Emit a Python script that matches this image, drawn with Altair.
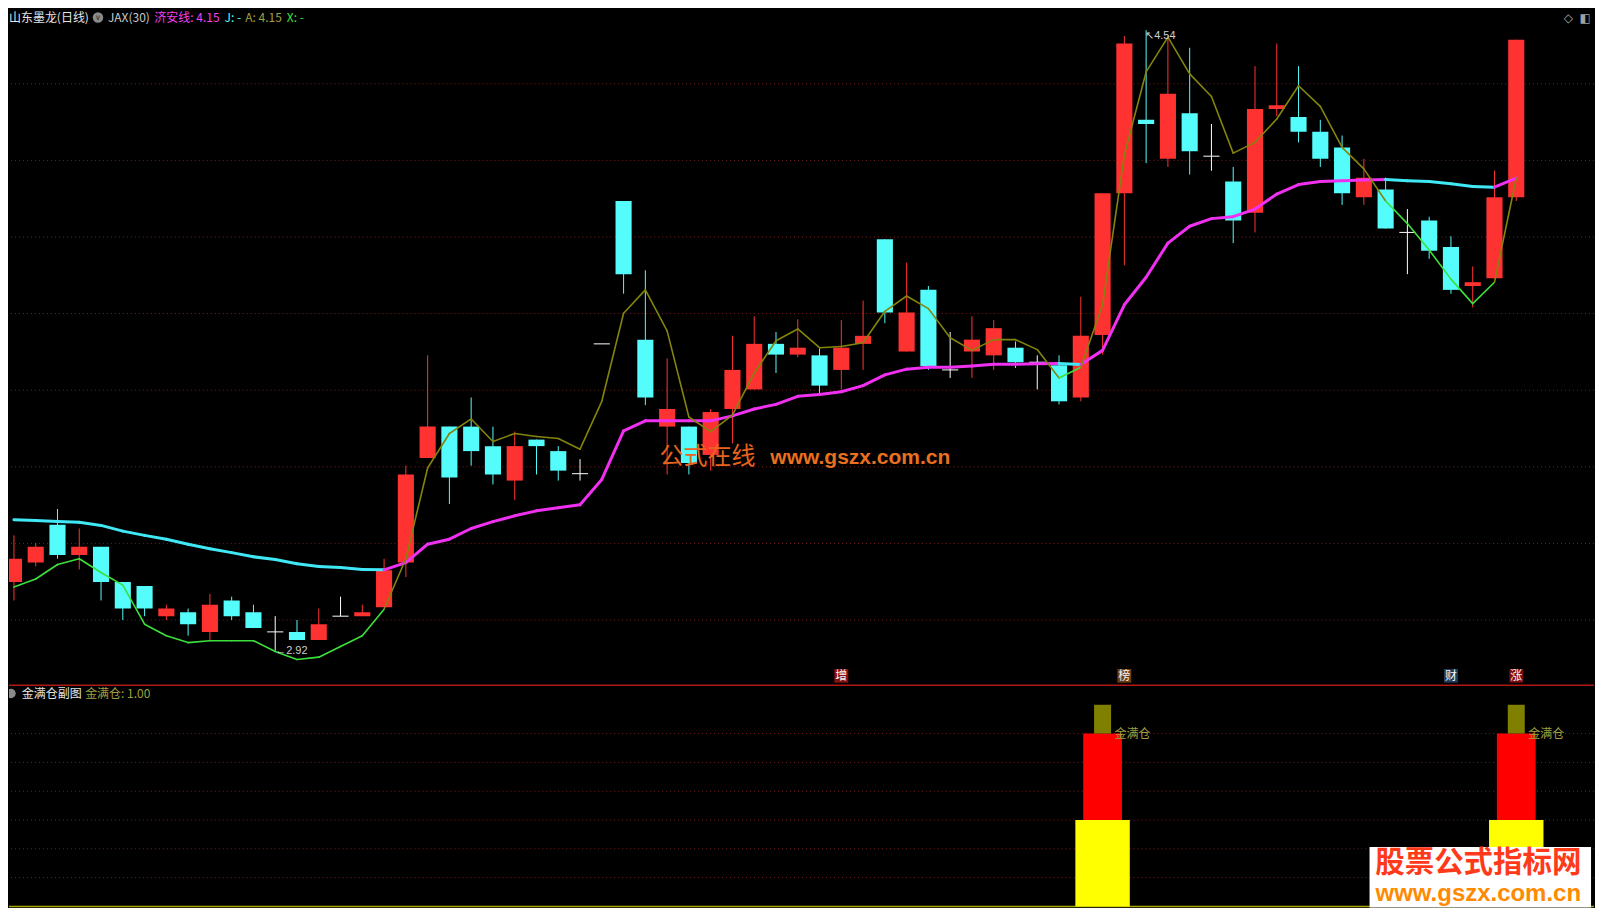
import altair as alt
import pandas as pd

# ---------------- data ----------------
days = list(range(1, 71))
opens = [3.099, 3.150, 3.249, 3.170, 3.191, 3.099, 3.089, 3.010, 3.020, 2.969,
         3.051, 3.020, 2.969, 2.969, 2.948, 3.010, 3.010, 3.033, 3.150, 3.423,
         3.505, 3.505, 3.454, 3.364, 3.471, 3.441, 3.382, 3.721, 4.094, 3.732,
         3.505, 3.505, 3.431, 3.551, 3.602, 3.721, 3.693, 3.691, 3.653, 3.721,
         3.994, 3.701, 3.862, 3.653, 3.701, 3.691, 3.711, 3.673, 3.665, 3.581,
         3.744, 4.114, 4.306, 4.204, 4.323, 4.211, 4.145, 4.063, 4.334, 4.313,
         4.275, 4.234, 4.104, 4.124, 4.012, 4.043, 3.974, 3.872, 3.892, 4.104]
highs = [3.221, 3.201, 3.290, 3.239, 3.191, 3.099, 3.089, 3.040, 3.030, 3.068,
         3.061, 3.040, 3.010, 3.000, 3.030, 3.061, 3.040, 3.160, 3.403, 3.691,
         3.505, 3.581, 3.505, 3.492, 3.471, 3.454, 3.420, 3.721, 4.094, 3.913,
         3.683, 3.505, 3.551, 3.742, 3.793, 3.752, 3.785, 3.711, 3.783, 3.834,
         3.994, 3.933, 3.872, 3.752, 3.793, 3.783, 3.727, 3.691, 3.691, 3.844,
         4.114, 4.525, 4.540, 4.522, 4.494, 4.295, 4.183, 4.446, 4.505, 4.446,
         4.306, 4.265, 4.204, 4.155, 4.073, 4.053, 4.002, 3.923, 4.173, 4.515]
lows = [3.051, 3.140, 3.160, 3.132, 3.051, 3.000, 3.010, 3.000, 2.959, 2.946,
        3.000, 2.979, 2.920, 2.948, 2.948, 3.010, 3.010, 3.033, 3.112, 3.423,
        3.303, 3.403, 3.354, 3.313, 3.380, 3.364, 3.364, 3.721, 3.852, 3.561,
        3.380, 3.380, 3.390, 3.461, 3.602, 3.645, 3.686, 3.591, 3.602, 3.653,
        3.775, 3.701, 3.653, 3.632, 3.632, 3.653, 3.658, 3.602, 3.563, 3.571,
        3.693, 3.926, 4.193, 4.183, 4.163, 4.173, 3.984, 4.012, 4.316, 4.247,
        4.183, 4.084, 4.084, 4.022, 3.903, 3.943, 3.852, 3.816, 3.892, 4.094]
closes = [3.160, 3.191, 3.170, 3.191, 3.099, 3.030, 3.030, 3.030, 2.989, 3.040,
          3.010, 2.979, 2.969, 2.948, 2.989, 3.010, 3.020, 3.130, 3.380, 3.505,
          3.372, 3.441, 3.380, 3.454, 3.454, 3.390, 3.382, 3.721, 3.903, 3.581,
          3.551, 3.410, 3.543, 3.653, 3.721, 3.693, 3.711, 3.612, 3.711, 3.742,
          3.803, 3.803, 3.663, 3.653, 3.732, 3.762, 3.673, 3.673, 3.571, 3.742,
          4.114, 4.505, 4.295, 4.374, 4.224, 4.211, 4.043, 4.334, 4.344, 4.275,
          4.204, 4.114, 4.155, 4.022, 4.012, 3.964, 3.862, 3.882, 4.104, 4.515]
# 济安线 (thick line)
jian_line = [3.262, 3.260, 3.257, 3.255, 3.247, 3.232, 3.221, 3.211, 3.198, 3.186,
             3.176, 3.165, 3.158, 3.147, 3.140, 3.137, 3.132, 3.131, 3.150, 3.198,
             3.211, 3.239, 3.257, 3.272, 3.285, 3.293, 3.301, 3.367, 3.494, 3.520,
             3.520, 3.520, 3.520, 3.533, 3.551, 3.563, 3.584, 3.589, 3.596, 3.612,
             3.640, 3.655, 3.660, 3.660, 3.663, 3.668, 3.668, 3.669, 3.670, 3.667,
             3.704, 3.823, 3.895, 3.984, 4.028, 4.048, 4.053, 4.073, 4.112, 4.137,
             4.145, 4.147, 4.149, 4.150, 4.147, 4.145, 4.139, 4.132, 4.130, 4.154]
# A / X line (thin line)
a_line = [3.086, 3.107, 3.145, 3.160, 3.124, 3.091, 2.989, 2.959, 2.941, 2.946,
          2.946, 2.946, 2.918, 2.897, 2.903, 2.931, 2.959, 3.028, 3.160, 3.397,
          3.487, 3.525, 3.466, 3.487, 3.479, 3.474, 3.446, 3.571, 3.801, 3.862,
          3.755, 3.530, 3.492, 3.535, 3.645, 3.729, 3.760, 3.711, 3.714, 3.724,
          3.806, 3.846, 3.813, 3.737, 3.704, 3.732, 3.732, 3.706, 3.632, 3.660,
          3.823, 4.214, 4.431, 4.522, 4.426, 4.367, 4.219, 4.247, 4.308, 4.395,
          4.341, 4.234, 4.178, 4.094, 4.035, 3.966, 3.890, 3.826, 3.882, 4.154]
grid_prices = [3.0, 3.2, 3.4, 3.6, 3.8, 4.0, 4.2, 4.4]
high_day, high_price = 53, 4.54
low_day, low_price = 13, 2.92
event_days = [39, 52, 67, 70]
event_chars = ["增", "榜", "财", "涨"]
jmc_days = [51, 70]            # 金满仓 signal days
jmc_levels = [0, 3, 6, 7]      # stick boundaries
sub_grid = [1, 2, 3, 4, 5, 6]

# ---------------- layout / style ----------------
SX = 1587 / 1603
SY = 899 / 919
W, H1 = 1587, 676
H2 = 899 - H1
XMIN, XMAX = 1 - 5 / 22.02, 1 + 1598 / 22.02
PMAX, PMIN = 4.4 + 77 / 392, 4.4 - 614 / 392
LMAX, LMIN = 227 / 29.5, -1 / 29.5

RED, CYAN, WHITE = "#FF3232", "#54FCFC", "#FFFFFF"
MAGENTA, JCYAN, OLIVE, GREEN = "#F030F0", "#40E8F5", "#84840C", "#3CE03C"
GRID = "#7A1E1E"
CJK = "Noto Sans CJK SC"
LAT = "Liberation Sans"

xs = alt.Scale(domain=[XMIN, XMAX], nice=False, zero=False)
ys = alt.Scale(domain=[PMIN, PMAX], nice=False, zero=False)
ls = alt.Scale(domain=[LMIN, LMAX], nice=False, zero=False)


def X(f):
    return alt.X(f, scale=xs, axis=None)


def Y(f, sc=ys):
    return alt.Y(f, scale=sc, axis=None)


def txt(s, x, y, color, size=12, align="left", baseline="middle", font=CJK, weight="normal"):
    return alt.Chart(alt.Data(values=[{}])).mark_text(
        text=s, color=color, fontSize=size, align=align, baseline=baseline,
        font=font, fontWeight=weight
    ).encode(x=alt.value(x), y=alt.value(y))


# ---------------- price panel ----------------
df = pd.DataFrame({"day": days, "open": opens, "high": highs, "low": lows, "close": closes})
df["kind"] = ["up" if c > o else ("down" if c < o else "flat") for o, c in zip(opens, closes)]
df["x0"] = df["day"] - 0.37
df["x1"] = df["day"] + 0.37
ccol = alt.Color("kind:N", scale=alt.Scale(domain=["up", "down", "flat"], range=[RED, CYAN, WHITE]), legend=None)

grid = alt.Chart(pd.DataFrame({"v": grid_prices})).mark_rule(
    color=GRID, strokeDash=[1, 3], strokeWidth=1).encode(y=Y("v:Q"))
wick = alt.Chart(df).mark_rule(strokeWidth=1, clip=True).encode(
    x=X("day:Q"), y=Y("low:Q"), y2="high:Q", color=ccol)
body = alt.Chart(df).mark_rect(clip=True).encode(
    x=X("x0:Q"), x2="x1:Q", y=Y("open:Q"), y2="close:Q", color=ccol)
flat = alt.Chart(df[df["kind"] == "flat"]).mark_rule(strokeWidth=1, clip=True).encode(
    x=X("x0:Q"), x2="x1:Q", y=Y("close:Q"), color=ccol)
candles = alt.layer(wick, body, flat)

n = len(days)
thick = pd.DataFrame({"d0": days[:-1], "d1": days[1:], "v0": jian_line[:-1], "v1": jian_line[1:]})
thick["c"] = ["rise" if jian_line[i + 1] >= jian_line[i] else "fall" for i in range(n - 1)]
thin = pd.DataFrame({"d0": days[:-1], "d1": days[1:], "v0": a_line[:-1], "v1": a_line[1:]})
thin["c"] = ["A" if (a_line[i] >= jian_line[i] or a_line[i + 1] >= jian_line[i + 1]) else "X"
             for i in range(n - 1)]

thick_l = alt.Chart(thick).mark_rule(strokeWidth=3, strokeCap="round", clip=True).encode(
    x=X("d0:Q"), x2="d1:Q", y=Y("v0:Q"), y2="v1:Q",
    color=alt.Color("c:N", scale=alt.Scale(domain=["rise", "fall"], range=[MAGENTA, JCYAN]), legend=None))
thin_l = alt.Chart(thin).mark_rule(strokeWidth=1.6, strokeCap="round", clip=True).encode(
    x=X("d0:Q"), x2="d1:Q", y=Y("v0:Q"), y2="v1:Q",
    color=alt.Color("c:N", scale=alt.Scale(domain=["A", "X"], range=[OLIVE, GREEN]), legend=None))

hl = pd.DataFrame({"day": [high_day, low_day], "p": [high_price, low_price],
                   "t": ["↖%.2f" % high_price, "←%.2f" % low_price]})
hi_lab = alt.Chart(hl.iloc[[0]]).mark_text(color="#D0D0D0", fontSize=11, align="left",
                                          baseline="top", font=LAT, dx=-1, dy=0).encode(
    x=X("day:Q"), y=Y("p:Q"), text="t:N")
lo_lab = alt.Chart(hl.iloc[[1]]).mark_text(color="#D0D0D0", fontSize=11, align="left",
                                          baseline="middle", font=LAT, dx=0).encode(
    x=X("day:Q"), y=Y("p:Q"), text="t:N")

ev = pd.DataFrame({"day": event_days, "ch": event_chars})
ev["x0"] = ev["day"] - 0.32
ev["x1"] = ev["day"] + 0.32
ev_box = alt.Chart(ev).mark_rect().encode(
    x=X("x0:Q"), x2="x1:Q", y=alt.value(676 * SY), y2=alt.value(690 * SY),
    color=alt.Color("ch:N", scale=alt.Scale(domain=event_chars,
                                            range=["#8A1010", "#6E3A12", "#1E3C5A", "#7A0C0C"]), legend=None))
ev_txt = alt.Chart(ev).mark_text(color="#F4F4F4", fontSize=12, font=CJK, baseline="middle").encode(
    x=X("day:Q"), y=alt.value(683 * SY), text="ch:N")

hy = 9
header = [
    txt("山东墨龙(日线)", 0, hy, "#E4E4E4"),
    alt.Chart(alt.Data(values=[{}])).mark_point(filled=True, size=110, color="#8A8A8A", opacity=1).encode(
        x=alt.value(90 * SX), y=alt.value(hy)),
    txt("∨", 90 * SX, hy + 0.5, "#303030", size=8, align="center", font="DejaVu Sans"),
    txt("JAX(30)", 100 * SX, hy, "#C8C8C8"),
    txt("济安线: 4.15", 147 * SX, hy, "#F040F0"),
    txt("J: -", 218 * SX, hy, "#54FCFC"),
    txt("A: 4.15", 239 * SX, hy, "#A0A040"),
    txt("X: -", 281 * SX, hy, "#40E040"),
    txt("◇", 1577 * SX, hy, "#A0A0A0", size=12, align="center", font="DejaVu Sans"),
    txt("◧", 1594 * SX, hy, "#A0A0A0", size=12, align="center", font="DejaVu Sans"),
]
wm = [
    txt("公式在线", 658 * SX, 459 * SY, "#E8641E", size=24),
    txt("www.gszx.com.cn", 770 * SX, 460 * SY, "#E8701E", size=21, font=LAT, weight="bold"),
]

price = alt.layer(grid, candles, thick_l, thin_l, hi_lab, lo_lab, ev_box, ev_txt,
                  *header, *wm).resolve_scale(color="independent").properties(width=W, height=H1)

# ---------------- 金满仓 sub panel ----------------
stick_rows = []
halfw = [1.25, 0.89, 0.39]
for d in jmc_days:
    for k in range(3):
        stick_rows.append({"day": d, "lo": jmc_levels[k], "hi": jmc_levels[k + 1],
                           "lvl": "L%d" % k, "x0": d - halfw[k], "x1": d + halfw[k]})
sticks = pd.DataFrame(stick_rows)
lgrid = alt.Chart(pd.DataFrame({"v": sub_grid})).mark_rule(
    color=GRID, strokeDash=[1, 3], strokeWidth=1).encode(y=Y("v:Q", ls))
zero = alt.Chart(pd.DataFrame({"v": [0]})).mark_rule(color="#A8A800", strokeWidth=1.5).encode(y=Y("v:Q", ls))
stk = alt.Chart(sticks).mark_rect(clip=True).encode(
    x=X("x0:Q"), x2="x1:Q", y=Y("lo:Q", ls), y2="hi:Q",
    color=alt.Color("lvl:N", scale=alt.Scale(domain=["L0", "L1", "L2"],
                                             range=["#FFFF00", "#FF0000", "#808000"]), legend=None))
jlab = alt.Chart(pd.DataFrame({"day": jmc_days, "v": [jmc_levels[2]] * len(jmc_days)})).mark_text(
    text="金满仓", color="#A0A040", fontSize=12, font=CJK, align="left", baseline="middle", dx=12).encode(
    x=X("day:Q"), y=Y("v:Q", ls))
divider = alt.Chart(alt.Data(values=[{}])).mark_rule(color="#B01818", strokeWidth=1.5).encode(
    x=alt.value(0), x2=alt.value(W), y=alt.value(0.5))
sy0 = 9 * SY
sub_header = [
    alt.Chart(alt.Data(values=[{}])).mark_point(filled=True, size=90, color="#8A8A8A", opacity=1,
                                                clip=True).encode(x=alt.value(2), y=alt.value(sy0)),
    txt("金满仓副图", 13 * SX, sy0, "#E4E4E4"),
    txt("金满仓: 1.00", 77 * SX, sy0, "#A0A040"),
]
box = alt.Chart(alt.Data(values=[{}])).mark_rect(color="#FFFFFF").encode(
    x=alt.value(1376 * SX), x2=alt.value(1600 * SX), y=alt.value((857 - 691) * SY), y2=alt.value(H2))
box_t1 = txt("股票公式指标网", 1486 * SX, (873 - 691) * SY, "#FF3A1A", size=29.5, align="center", weight="bold")
box_t2 = txt("www.gszx.com.cn", 1486 * SX, (905 - 691) * SY, "#FF8A00", size=24, align="center",
             font=LAT, weight="bold")

lower = alt.layer(lgrid, zero, stk, jlab, divider, *sub_header, box, box_t1, box_t2).resolve_scale(
    color="independent").properties(width=W, height=H2)

chart = alt.vconcat(price, lower, spacing=0).properties(
    background="#000000", padding=0).configure_view(strokeWidth=0)

chart.save("out.html", embed_options={"renderer": "svg", "actions": False})
